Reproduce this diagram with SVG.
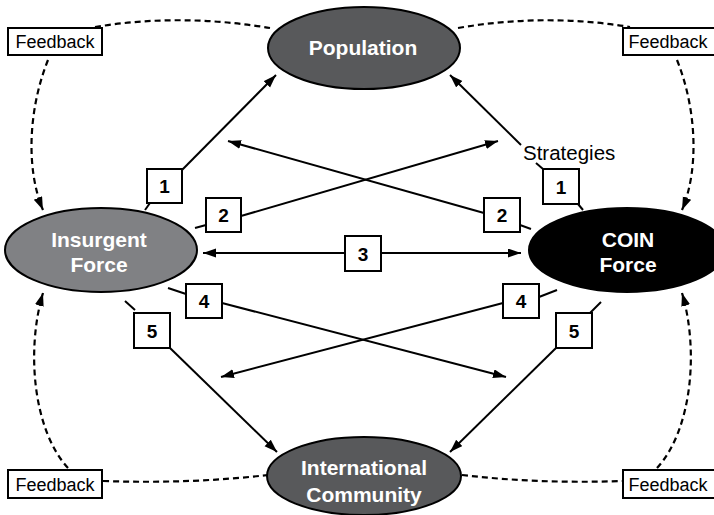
<svg xmlns="http://www.w3.org/2000/svg" width="714" height="515" viewBox="0 0 714 515">
<defs>
<marker id="ah" markerUnits="userSpaceOnUse" markerWidth="14" markerHeight="10" refX="13" refY="4.5" orient="auto">
<path d="M0,0 L13,4.5 L0,9 z" fill="#000"/>
</marker>
<style>
.node{stroke:#000;stroke-width:2}
.nt{font-family:"Liberation Sans",Arial,sans-serif;font-weight:bold;font-size:21px;fill:#fff;text-anchor:middle}
.ln{fill:none;stroke:#000;stroke-width:2}
.dash{fill:none;stroke:#000;stroke-width:2.2;stroke-dasharray:6,4}
.box{fill:#fff;stroke:#000;stroke-width:2}
.bt{font-family:"Liberation Sans",Arial,sans-serif;font-weight:bold;font-size:19px;fill:#000;text-anchor:middle}
.fb{fill:#fff;stroke:#000;stroke-width:2}
.ft{font-family:"Liberation Sans",Arial,sans-serif;font-size:18px;fill:#000;text-anchor:middle}
</style>
</defs>
<rect width="714" height="515" fill="#fff"/>
<g id="connectors">
<path class="dash" d="M95,27 Q180,13 270,28"/>
<path class="dash" d="M48,60 C28,110 26,170 43,210" marker-end="url(#ah)"/>
<path class="dash" d="M68,468 C33,430 26,350 43,293" marker-end="url(#ah)"/>
<path class="dash" d="M103,481 Q190,484 268,475"/>
<path class="dash" d="M458,28 Q545,13 630,27"/>
<path class="dash" d="M677,60 C697,110 699,170 682,210" marker-end="url(#ah)"/>
<path class="dash" d="M657,468 C692,430 699,350 682,293" marker-end="url(#ah)"/>
<path class="dash" d="M462,475 Q540,484 622,481"/>
<path class="ln" d="M145,210 L150,203"/>
<path class="ln" d="M182,170 L276,75" marker-end="url(#ah)"/>
<path class="ln" d="M195,228 L206,225"/>
<path class="ln" d="M241,216 L498,141" marker-end="url(#ah)"/>
<path class="ln" d="M520,225 L531,229"/>
<path class="ln" d="M484,213 L228,141" marker-end="url(#ah)"/>
<path class="ln" d="M578,204 L583,210"/>
<path class="ln" d="M536,163 L543,169"/>
<path class="ln" d="M521,145 L450,75" marker-end="url(#ah)"/>
<path class="ln" d="M345,253 L203,253" marker-end="url(#ah)"/>
<path class="ln" d="M381,253 L521,253" marker-end="url(#ah)"/>
<path class="ln" d="M168,288 L186,294"/>
<path class="ln" d="M222,303 L506,377" marker-end="url(#ah)"/>
<path class="ln" d="M539,297 L557,290"/>
<path class="ln" d="M503,303 L221,377" marker-end="url(#ah)"/>
<path class="ln" d="M125,301 L135,310"/>
<path class="ln" d="M170,348 L277,452" marker-end="url(#ah)"/>
<path class="ln" d="M590,313 L601,302"/>
<path class="ln" d="M556,348 L450,452" marker-end="url(#ah)"/>
</g>
<g id="labels">
<rect class="box" x="147" y="169" width="35" height="34"/><text class="bt" x="164.5" y="193">1</text>
<rect class="box" x="206" y="198" width="35" height="34"/><text class="bt" x="223.5" y="222">2</text>
<rect class="box" x="484" y="198" width="36" height="34"/><text class="bt" x="502" y="222">2</text>
<rect class="box" x="543" y="169" width="36" height="35"/><text class="bt" x="561" y="193.5">1</text>
<rect class="box" x="345" y="236" width="36" height="35"/><text class="bt" x="363" y="260.5">3</text>
<rect class="box" x="186" y="284" width="36" height="34"/><text class="bt" x="204" y="308">4</text>
<rect class="box" x="503" y="284" width="36" height="34"/><text class="bt" x="521" y="308">4</text>
<rect class="box" x="134" y="313" width="36" height="35"/><text class="bt" x="152" y="337.5">5</text>
<rect class="box" x="556" y="313" width="36" height="35"/><text class="bt" x="574" y="337.5">5</text>
<text x="523" y="160" font-family="'Liberation Sans',Arial,sans-serif" font-size="20.5">Strategies</text>
</g>
<g id="population">
<ellipse class="node" cx="364" cy="48" rx="96" ry="41" fill="#58595b"/>
<text class="nt" x="363" y="55">Population</text>
</g>
<g id="insurgent">
<ellipse class="node" cx="101" cy="250" rx="96" ry="42" fill="#808184"/>
<text class="nt" x="99" y="247">Insurgent</text>
<text class="nt" x="99" y="272">Force</text>
</g>
<g id="coin">
<ellipse class="node" cx="627" cy="250" rx="98" ry="42" fill="#000"/>
<text class="nt" x="628" y="247">COIN</text>
<text class="nt" x="628" y="272">Force</text>
</g>
<g id="international">
<ellipse class="node" cx="364" cy="476" rx="97" ry="39" fill="#58595b"/>
<text class="nt" x="364" y="475">International</text>
<text class="nt" x="364" y="502">Community</text>
</g>
<g id="feedback-tl"><rect class="fb" x="8" y="28" width="94" height="27"/><text class="ft" x="55" y="48">Feedback</text></g>
<g id="feedback-tr"><rect class="fb" x="623" y="28" width="94" height="27"/><text class="ft" x="668" y="48">Feedback</text></g>
<g id="feedback-bl"><rect class="fb" x="8" y="470" width="94" height="28"/><text class="ft" x="55" y="490.5">Feedback</text></g>
<g id="feedback-br"><rect class="fb" x="623" y="470" width="94" height="28"/><text class="ft" x="668" y="490.5">Feedback</text></g>
</svg>
